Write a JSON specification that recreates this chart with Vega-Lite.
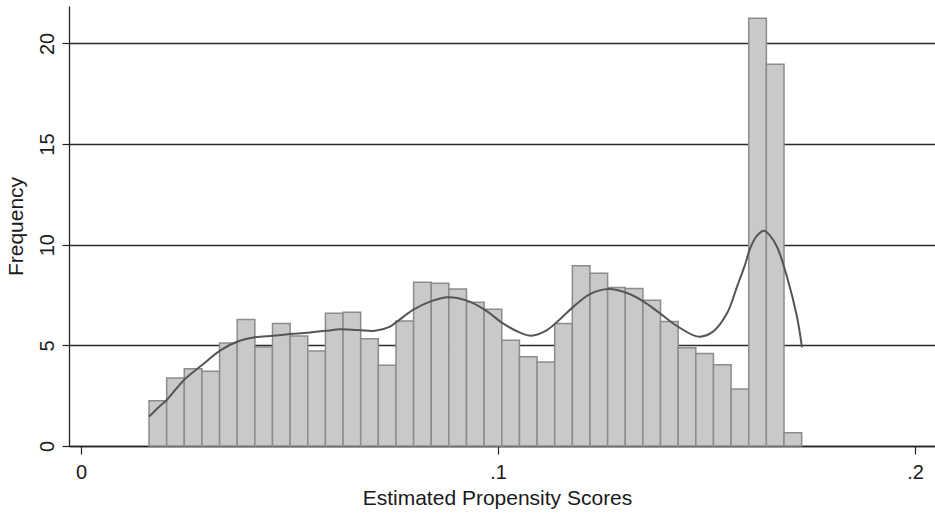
{
  "$schema": "https://vega.github.io/schema/vega-lite/v6.json",
  "width": 866,
  "height": 440,
  "autosize": {"type": "none"},
  "padding": {"left": 69, "top": 6, "right": 0, "bottom": 67},
  "background": "white",
  "config": {
    "view": {"stroke": null},
    "font": "Liberation Sans",
    "axis": {
      "labelFont": "Liberation Sans",
      "titleFont": "Liberation Sans",
      "labelColor": "#1a1a1a",
      "titleColor": "#1a1a1a",
      "titleFontWeight": "normal",
      "domainColor": "#222222",
      "tickColor": "#222222",
      "gridColor": "#2a2a2a"
    }
  },
  "datasets": {
    "bins": [
      {"x0": 0.01631, "x1": 0.02054, "freq": 2.25},
      {"x0": 0.02054, "x1": 0.02477, "freq": 3.38},
      {"x0": 0.02477, "x1": 0.02900, "freq": 3.84},
      {"x0": 0.02900, "x1": 0.03323, "freq": 3.71},
      {"x0": 0.03323, "x1": 0.03746, "freq": 5.12},
      {"x0": 0.03746, "x1": 0.04169, "freq": 6.29},
      {"x0": 0.04169, "x1": 0.04592, "freq": 4.92},
      {"x0": 0.04592, "x1": 0.05015, "freq": 6.08},
      {"x0": 0.05015, "x1": 0.05438, "freq": 5.46},
      {"x0": 0.05438, "x1": 0.05861, "freq": 4.72},
      {"x0": 0.05861, "x1": 0.06284, "freq": 6.59},
      {"x0": 0.06284, "x1": 0.06707, "freq": 6.64},
      {"x0": 0.06707, "x1": 0.07130, "freq": 5.33},
      {"x0": 0.07130, "x1": 0.07553, "freq": 4.01},
      {"x0": 0.07553, "x1": 0.07976, "freq": 6.21},
      {"x0": 0.07976, "x1": 0.08399, "freq": 8.13},
      {"x0": 0.08399, "x1": 0.08822, "freq": 8.08},
      {"x0": 0.08822, "x1": 0.09245, "freq": 7.80},
      {"x0": 0.09245, "x1": 0.09668, "freq": 7.14},
      {"x0": 0.09668, "x1": 0.10091, "freq": 6.79},
      {"x0": 0.10091, "x1": 0.10514, "freq": 5.25},
      {"x0": 0.10514, "x1": 0.10937, "freq": 4.44},
      {"x0": 0.10937, "x1": 0.11360, "freq": 4.17},
      {"x0": 0.11360, "x1": 0.11783, "freq": 6.08},
      {"x0": 0.11783, "x1": 0.12206, "freq": 8.96},
      {"x0": 0.12206, "x1": 0.12629, "freq": 8.58},
      {"x0": 0.12629, "x1": 0.13052, "freq": 7.88},
      {"x0": 0.13052, "x1": 0.13475, "freq": 7.83},
      {"x0": 0.13475, "x1": 0.13898, "freq": 7.24},
      {"x0": 0.13898, "x1": 0.14321, "freq": 6.18},
      {"x0": 0.14321, "x1": 0.14744, "freq": 4.88},
      {"x0": 0.14744, "x1": 0.15167, "freq": 4.59},
      {"x0": 0.15167, "x1": 0.15590, "freq": 4.04},
      {"x0": 0.15590, "x1": 0.16013, "freq": 2.83},
      {"x0": 0.16013, "x1": 0.16436, "freq": 21.25},
      {"x0": 0.16436, "x1": 0.16859, "freq": 18.96},
      {"x0": 0.16859, "x1": 0.17282, "freq": 0.66}
    ],
    "density": [
      {"score": 0.01631, "freq": 1.46},
      {"score": 0.01894, "freq": 1.99},
      {"score": 0.02062, "freq": 2.30},
      {"score": 0.02470, "freq": 3.28},
      {"score": 0.02902, "freq": 4.02},
      {"score": 0.03333, "freq": 4.74},
      {"score": 0.03741, "freq": 5.18},
      {"score": 0.04173, "freq": 5.40},
      {"score": 0.04604, "freq": 5.48},
      {"score": 0.05012, "freq": 5.56},
      {"score": 0.05444, "freq": 5.63},
      {"score": 0.05875, "freq": 5.72},
      {"score": 0.06211, "freq": 5.80},
      {"score": 0.06643, "freq": 5.76},
      {"score": 0.07050, "freq": 5.72},
      {"score": 0.07410, "freq": 5.93},
      {"score": 0.07578, "freq": 6.18},
      {"score": 0.07962, "freq": 6.76},
      {"score": 0.08369, "freq": 7.17},
      {"score": 0.08801, "freq": 7.39},
      {"score": 0.09257, "freq": 7.22},
      {"score": 0.09688, "freq": 6.76},
      {"score": 0.10120, "freq": 6.09},
      {"score": 0.10528, "freq": 5.63},
      {"score": 0.10791, "freq": 5.48},
      {"score": 0.11175, "freq": 5.76},
      {"score": 0.11487, "freq": 6.30},
      {"score": 0.11799, "freq": 6.90},
      {"score": 0.12206, "freq": 7.55},
      {"score": 0.12662, "freq": 7.80},
      {"score": 0.13094, "freq": 7.60},
      {"score": 0.13477, "freq": 7.20},
      {"score": 0.13885, "freq": 6.59},
      {"score": 0.14293, "freq": 5.96},
      {"score": 0.14676, "freq": 5.51},
      {"score": 0.14844, "freq": 5.43},
      {"score": 0.15156, "freq": 5.68},
      {"score": 0.15492, "freq": 6.59},
      {"score": 0.15731, "freq": 7.91},
      {"score": 0.15923, "freq": 9.00},
      {"score": 0.16043, "freq": 9.80},
      {"score": 0.16211, "freq": 10.45},
      {"score": 0.16379, "freq": 10.70},
      {"score": 0.16523, "freq": 10.45},
      {"score": 0.16691, "freq": 9.90},
      {"score": 0.16930, "freq": 8.41},
      {"score": 0.17170, "freq": 6.42},
      {"score": 0.17290, "freq": 4.90}
    ]
  },
  "layer": [
    {
      "data": {"name": "bins"},
      "mark": {"type": "rect", "fill": "#c8c9cb", "stroke": "#8c8c8c", "strokeWidth": 1.5},
      "encoding": {
        "x": {
          "field": "x0",
          "type": "quantitative",
          "scale": {"domain": [-0.00288, 0.2048], "nice": false, "zero": false},
          "axis": {
            "values": [0, 0.1, 0.2],
            "labelExpr": "datum.value === 0 ? '0' : '.' + format(datum.value * 10, '.0f')",
            "labelFontSize": 20,
            "labelPadding": 8,
            "tickSize": 8,
            "tickWidth": 1.2,
            "domainWidth": 1.3,
            "grid": false,
            "title": "Estimated Propensity Scores",
            "titleFontSize": 21,
            "titleX": 428,
            "titleY": 58,
            "titleBaseline": "alphabetic",
            "titleAlign": "center"
          }
        },
        "x2": {"field": "x1"},
        "y": {
          "field": "freq",
          "type": "quantitative",
          "scale": {"domain": [0, 21.86], "nice": false},
          "axis": {
            "values": [0, 5, 10, 15, 20],
            "labelAngle": 270,
            "labelAlign": "center",
            "labelBaseline": "alphabetic",
            "labelFontSize": 20,
            "labelPadding": 9,
            "tickSize": 7,
            "tickWidth": 1.2,
            "domainWidth": 1.3,
            "grid": true,
            "gridWidth": 1.3,
            "title": "Frequency",
            "titleFontSize": 21,
            "titleAngle": 270,
            "titleBaseline": "top",
            "titleX": -64,
            "titleY": 220
          }
        },
        "y2": {"datum": 0}
      }
    },
    {
      "data": {"name": "density"},
      "mark": {"type": "line", "color": "#555555", "strokeWidth": 2, "interpolate": "catmull-rom"},
      "encoding": {
        "x": {"field": "score", "type": "quantitative"},
        "y": {"field": "freq", "type": "quantitative"}
      }
    }
  ]
}
